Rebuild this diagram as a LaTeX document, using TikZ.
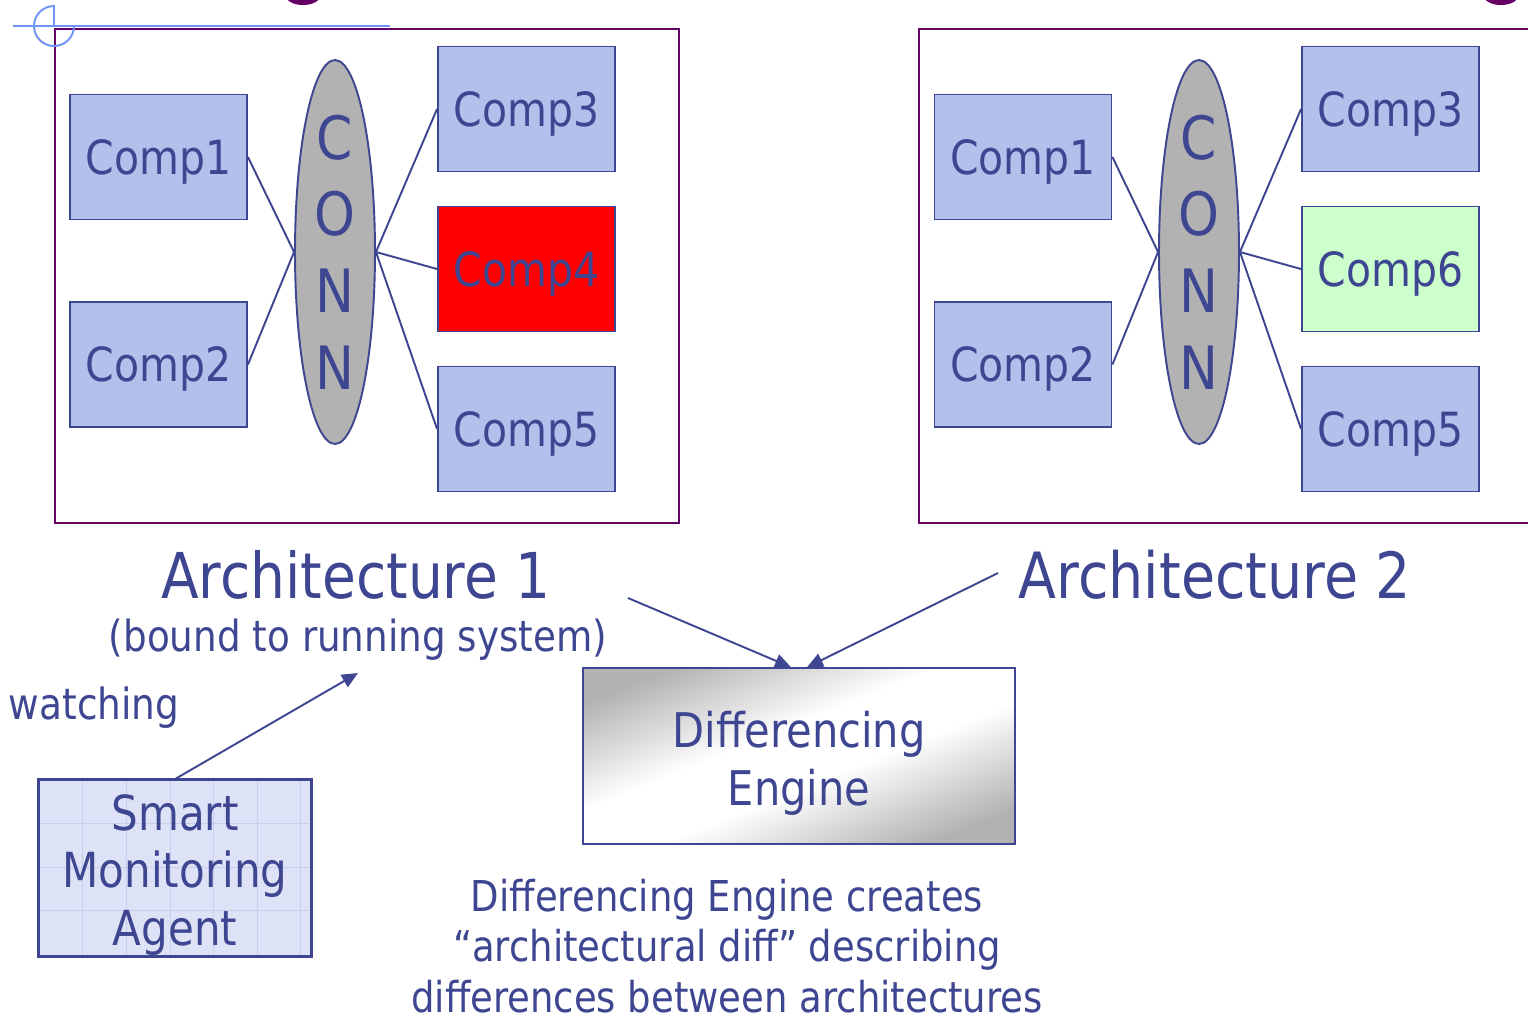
\documentclass[tikz,border=0pt]{standalone}
\usepackage{fontspec}
\setmainfont{DejaVu Sans}[FakeStretch=0.87]
\usetikzlibrary{calc,shapes.geometric,arrows.meta}
\definecolor{navy}{RGB}{62,70,145}
\definecolor{compfill}{RGB}{180,192,236}
\definecolor{newfill}{RGB}{204,255,204}
\definecolor{conngray}{RGB}{178,178,178}
\definecolor{archpurple}{RGB}{102,0,102}
\definecolor{guideblue}{RGB}{112,148,245}
\definecolor{agentfill}{RGB}{222,226,246}
\definecolor{agentgrid}{RGB}{200,206,240}
\pgfdeclareverticalshading{enginesheen}{100bp}{color(0bp)=(conngray); color(24bp)=(conngray); color(44bp)=(white); color(56bp)=(white); color(76bp)=(conngray); color(100bp)=(conngray)}

\begin{document}
\begin{tikzpicture}[x=0.02cm,y=-0.02cm,
                    comp/.style={draw=navy,line width=1.1pt,fill=compfill,text=navy,minimum width=3.54cm,minimum height=2.5cm,inner sep=0pt,text depth=0pt,font=\fontsize{26.8}{30}\selectfont},
                    conn/.style={ellipse,draw=navy,line width=1.1pt,fill=conngray,minimum width=1.6cm,minimum height=7.68cm,inner sep=0pt},
                    conn letters/.style={text=navy,align=center,inner sep=0pt,font=\fontsize{34}{43.6}\selectfont},
                    arch frame/.style={draw=archpurple,line width=1.4pt},
                    wire/.style={draw=navy,line width=1.1pt},
                    feed/.style={draw=navy,line width=1.1pt,-{Triangle[length=0.32cm,width=0.28cm]}},
                    caption/.style={text=navy,inner sep=0pt,align=center}]
            \path[use as bounding box,clip] (0,0) rectangle (1528,1019);
            % cut-off title and slide guides
            \fill[archpurple] (303,-4) ellipse [x radius=17,y radius=9];
            \fill[archpurple] (1501,-4) ellipse [x radius=17,y radius=9];
            \draw[arch frame] (55,29) rectangle (679,523);
            \draw[arch frame] (919,29) rectangle (1560,523);
            \draw[guideblue,line width=1.1pt] (13,26) -- (390,26);
            \draw[guideblue,line width=1.1pt] (54,26) -- (54,6) arc[start angle=270,end angle=0,radius=20];

            % architecture 1
            \node[comp] (a comp1) at (158.5,157) {Comp1};
            \node[comp] (a comp2) at (158.5,364.5) {Comp2};
            \node[conn,label={[conn letters]center:{C\\O\\N\\N}}] (a conn) at (335,252) {};
            \node[comp] (a comp3) at (526.5,109) {Comp3};
            \node[comp,fill=red] (a comp4) at (526.5,269) {Comp4};
            \node[comp] (a comp5) at (526.5,429) {Comp5};
            \draw[wire] (a comp1.east) -- (a conn.west);
            \draw[wire] (a comp2.east) -- (a conn.west);
            \draw[wire] (a conn.east) -- (a comp3.west);
            \draw[wire] (a conn.east) -- (a comp4.west);
            \draw[wire] (a conn.east) -- (a comp5.west);

            % architecture 2
            \node[comp] (b comp1) at (1023,157) {Comp1};
            \node[comp] (b comp2) at (1023,364.5) {Comp2};
            \node[conn,label={[conn letters]center:{C\\O\\N\\N}}] (b conn) at (1199,252) {};
            \node[comp] (b comp3) at (1390.5,109) {Comp3};
            \node[comp,fill=newfill] (b comp6) at (1390.5,269) {Comp6};
            \node[comp] (b comp5) at (1390.5,429) {Comp5};
            \draw[wire] (b comp1.east) -- (b conn.west);
            \draw[wire] (b comp2.east) -- (b conn.west);
            \draw[wire] (b conn.east) -- (b comp3.west);
            \draw[wire] (b conn.east) -- (b comp6.west);
            \draw[wire] (b conn.east) -- (b comp5.west);

            % labels
            \node[caption,font=\fontsize{36}{40}\selectfont] (arch1 label) at (356,575) {Architecture 1};
            \node[caption,font=\fontsize{24.4}{28}\selectfont] (bound label) at (358,640) {(bound to running system)};
            \node[caption,font=\fontsize{36.3}{40}\selectfont] (arch2 label) at (1215,575) {Architecture 2};
            \node[caption,font=\fontsize{24.5}{28}\selectfont] (watch label) at (94,708) {watching};

            % engine and agent
            \node[draw=navy,line width=0.9pt,shading=enginesheen,shading angle=22,
                  minimum width=8.64cm,minimum height=3.52cm] (engine) at (799,756) {};
            \node[caption,font=\fontsize{27.2}{32.9}\selectfont] (engine text) at ($(engine.center)+(0,7)$) {Differencing\\Engine};
            \node[draw=navy,line width=1.1pt,fill=agentfill,minimum width=5.44cm,minimum height=3.52cm,inner sep=0pt] (agent) at (175,868) {};
            \foreach \gx in {82,126,170,213,257,300}
                \draw[agentgrid,line width=0.4pt] (\gx,781) -- (\gx,955);
            \foreach \gy in {823,867,910}
                \draw[agentgrid,line width=0.4pt] (40,\gy) -- (310,\gy);
            \draw[navy,line width=1.1pt] (agent.south west) rectangle (agent.north east);
            \node[caption,font=\fontsize{27.5}{32.6}\selectfont] (agent text) at ($(agent.center)+(0,7)$) {Smart\\Monitoring\\Agent};
            \node[caption,font=\fontsize{24.2}{28.9}\selectfont] (engine note) at (727,946) {Differencing Engine creates\\“architectural diff” describing\\differences between architectures};

            % arrows
            \coordinate (arch1 tail) at (628,598);
            \coordinate (arch2 tail) at (998,573);
            \coordinate (watch tip) at (358,673);
            \draw[feed] (arch1 tail) -- ($(engine.north)+(-8,0)$);
            \draw[feed] (arch2 tail) -- ($(engine.north)+(8,0)$);
            \draw[feed] (agent.north) -- (watch tip);

        \end{tikzpicture}
\end{document}
